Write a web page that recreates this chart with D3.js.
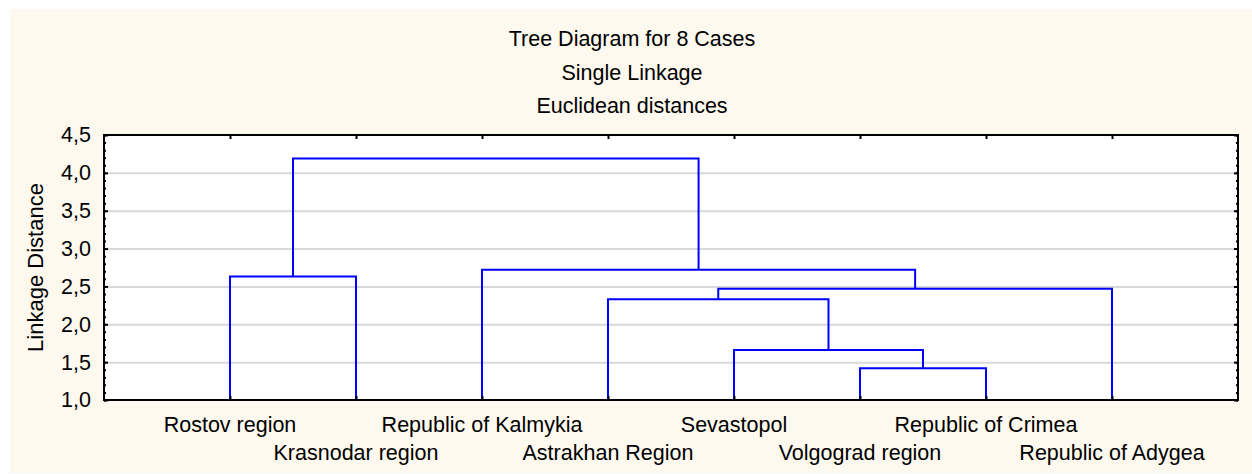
<html><head>
<meta charset="utf-8">
<script src="https://d3js.org/d3.v7.min.js"></script>
<style>
  body { margin: 0; background: #fff; }
  svg text { font-family: "Liberation Sans", Arial, sans-serif; fill: #000; }
  .gridlines line { stroke: #d9d9d9; stroke-width: 2; }
  .gridlines .domain { stroke: none; }
  .axis .domain { stroke: none; }
  .axis line { stroke: #000; stroke-width: 2; }
</style>
</head>
<body>
<svg id="tree" width="1252" height="474"></svg>
<script>

  // --- data
  const titles = ["Tree Diagram for 8 Cases", "Single Linkage", "Euclidean distances"];
  const yLabel = "Linkage Distance";

  // leaves in the order they are drawn, left to right
  const leaves = ["Rostov region", "Krasnodar region", "Republic of Kalmykia", "Astrakhan Region",
                  "Sevastopol", "Volgograd region", "Republic of Crimea", "Republic of Adygea"];

  // merges, hclust style: negative = leaf number (1-based), positive = earlier merge step
  const mergeLeft   = [-6, -5, -4,  3, -1, -3, 5];
  const mergeRight  = [-7,  1,  2, -8, -2,  4, 6];
  const mergeHeight = [1.42, 1.66, 2.33, 2.47, 2.63, 2.72, 4.19];

  const yTicks = [1.0, 1.5, 2.0, 2.5, 3.0, 3.5, 4.0, 4.5];

  // --- svg setup
  const svg = d3.select("svg#tree");
  const margins = {top: 135, right: 14, bottom: 74, left: 104};
  const width = +svg.attr("width");
  const height = +svg.attr("height");
  const fontSize = "21.5px";

  // cream panel behind everything
  svg.append("rect")
     .attr("x", 10).attr("y", 9)
     .attr("width", width - 10).attr("height", 464)
     .style("fill", "#fdf9ef");

  const xScale = d3.scaleLinear().domain([0, leaves.length + 1])
                   .range([margins.left, width - margins.right]);
  const yScale = d3.scaleLinear().domain([1, 4.5])
                   .range([height - margins.bottom, margins.top]);

  // white plot area
  svg.append("rect")
     .attr("x", xScale.range()[0]).attr("y", yScale.range()[1])
     .attr("width", xScale.range()[1] - xScale.range()[0])
     .attr("height", yScale.range()[0] - yScale.range()[1])
     .style("fill", "#fff");

  // gridlines
  svg.append("g")
     .attr("class", "gridlines")
     .attr("transform", `translate(${xScale.range()[0]},0)`)
     .call(d3.axisLeft(yScale).tickValues(yTicks.slice(1, -1))
             .tickSize(-(xScale.range()[1] - xScale.range()[0])).tickFormat(""));

  // --- dendrogram
  const leafX = leaves.map((d, i) => xScale(i + 1));
  const nodeX = [], nodeY = [];
  const childX = c => c < 0 ? leafX[-c - 1] : nodeX[c - 1];
  const childY = c => c < 0 ? 1 : nodeY[c - 1];

  mergeHeight.forEach((h, i) => {
    const a = mergeLeft[i], b = mergeRight[i];
    const x1 = childX(a), x2 = childX(b);
    nodeX.push((x1 + x2) / 2);
    nodeY.push(h);
    const path = d3.path();
    path.moveTo(x1, yScale(childY(a)));
    path.lineTo(x1, yScale(h));
    path.lineTo(x2, yScale(h));
    path.lineTo(x2, yScale(childY(b)));
    svg.append("path")
       .attr("d", path.toString())
       .style("fill", "none")
       .style("stroke", "#0000ff")
       .style("stroke-width", 2);
  });

  // --- axes
  const locale = d3.formatLocale({decimal: ",", thousands: " ", grouping: [3], currency: ["", ""]});
  const fmt = locale.format(".1f");
  const minor = d3.range(10, 46).map(d => d / 10);

  // minor ticks left + right
  svg.append("g").attr("class", "axis")
     .attr("transform", `translate(${xScale.range()[0]},0)`)
     .call(d3.axisLeft(yScale).tickValues(minor).tickSize(-2).tickFormat(""));
  svg.append("g").attr("class", "axis")
     .attr("transform", `translate(${xScale.range()[1]},0)`)
     .call(d3.axisRight(yScale).tickValues(minor).tickSize(-2).tickFormat(""));

  // major ticks + labels
  let leftAxis = d3.axisLeft(yScale).tickValues(yTicks).tickSize(-4).tickPadding(13).tickFormat(fmt);
  svg.append("g").attr("class", "axis y")
     .attr("transform", `translate(${xScale.range()[0]},0)`)
     .call(leftAxis)
     .selectAll("text").style("font-size", fontSize);
  svg.append("g").attr("class", "axis")
     .attr("transform", `translate(${xScale.range()[1]},0)`)
     .call(d3.axisRight(yScale).tickValues(yTicks).tickSize(-4).tickFormat(""));

  // leaf ticks top + bottom
  const leafPos = d3.range(1, leaves.length + 1);
  svg.append("g").attr("class", "axis")
     .attr("transform", `translate(0,${yScale.range()[1]})`)
     .call(d3.axisTop(xScale).tickValues(leafPos).tickSize(-4).tickFormat(""));
  svg.append("g").attr("class", "axis")
     .attr("transform", `translate(0,${yScale.range()[0]})`)
     .call(d3.axisBottom(xScale).tickValues(leafPos).tickSize(-4).tickFormat(""));

  // frame
  svg.append("rect")
     .attr("x", xScale.range()[0]).attr("y", yScale.range()[1])
     .attr("width", xScale.range()[1] - xScale.range()[0])
     .attr("height", yScale.range()[0] - yScale.range()[1])
     .style("fill", "none").style("stroke", "#000").style("stroke-width", 2);

  // leaf labels, alternating two rows
  leaves.forEach((name, i) => {
    svg.append("text")
       .attr("x", leafX[i])
       .attr("y", i % 2 === 0 ? 432 : 459.5)
       .attr("text-anchor", "middle")
       .style("font-size", fontSize)
       .text(name);
  });

  // titles
  titles.forEach((t, i) => {
    svg.append("text")
       .attr("x", 632)
       .attr("y", 46 + i * 33.5)
       .attr("text-anchor", "middle")
       .style("font-size", fontSize)
       .text(t);
  });

  // y label
  svg.append("text")
     .attr("transform", `translate(42.5,${(yScale.range()[0] + yScale.range()[1]) / 2}) rotate(-90)`)
     .attr("text-anchor", "middle")
     .style("font-size", "22px")
     .text(yLabel);

</script>
</body>
</html>
